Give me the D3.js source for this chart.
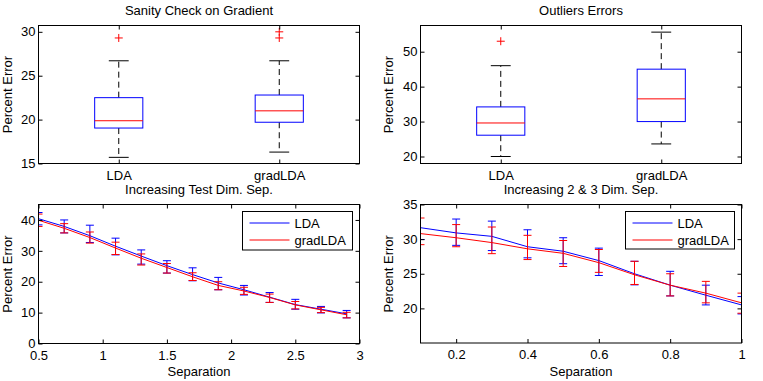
<!DOCTYPE html>
<html>
<head>
<meta charset="utf-8">
<script src="https://cdn.jsdelivr.net/npm/d3@7/dist/d3.min.js"></script>
<style>
  html, body { margin: 0; padding: 0; background: #fff; }
  svg { display: block; }
  text { font-family: "Liberation Sans", Arial, Helvetica, sans-serif; font-size: 13px; fill: #000; }
</style>
</head>
<body>
<svg id="chart" width="763" height="381"></svg>
<script>
// ---------- DATA ----------
const boxCategories = ["LDA", "gradLDA"];
// [lower whisker, Q1, median, Q3, upper whisker]
const sanityLDA = [15.7, 19.04, 19.87, 22.5, 26.7];
const sanityGrad = [16.3, 19.7, 21.0, 22.8, 26.7];
const sanityLDAOutliers = [29.3];
const sanityGradOutliers = [29.3, 30.0];
const outlierLDA = [20.0, 26.1, 29.6, 34.2, 46.0];
const outlierGrad = [23.6, 30.0, 36.5, 45.0, 55.6];
const outlierLDAOutliers = [53.0];
const outlierGradOutliers = [];

const sepTest = [0.5, 0.7, 0.9, 1.1, 1.3, 1.5, 1.7, 1.9, 2.1, 2.3, 2.5, 2.7, 2.9];
const testLDA     = [40.4, 37.9, 34.9, 31.5, 28.3, 25.2, 22.3, 19.6, 17.4, 15.0, 12.6, 11.1, 9.6];
const testLDAHi   = [42.4, 40.0, 38.3, 34.1, 30.3, 26.8, 24.5, 21.4, 18.8, 16.5, 14.3, 12.0, 10.7];
const testLDALo   = [38.4, 35.8, 32.7, 28.7, 25.7, 22.8, 20.3, 17.4, 15.7, 13.3, 11.1, 9.9, 8.3];
const testGrad    = [39.9, 37.3, 34.3, 30.9, 27.6, 24.6, 21.6, 18.8, 17.0, 14.9, 12.5, 10.9, 9.3];
const testGradHi  = [41.9, 38.8, 36.1, 32.8, 29.0, 25.9, 22.9, 20.0, 18.2, 16.0, 13.6, 11.7, 10.1];
const testGradLo  = [37.9, 35.8, 32.5, 28.8, 25.4, 22.8, 20.4, 17.4, 15.9, 13.3, 11.2, 10.0, 8.3];

const sep23 = [0.1, 0.2, 0.3, 0.4, 0.5, 0.6, 0.7, 0.8, 0.9, 1.0];
const dimLDA    = [31.65, 30.9, 30.4, 28.9, 28.25, 26.9, 25.0, 23.35, 21.9, 20.5];
const dimLDAHi  = [35.5, 32.9, 32.6, 31.35, 30.2, 28.7, 26.8, 25.35, 23.35, 21.7];
const dimLDALo  = [29.95, 29.1, 28.35, 27.3, 26.45, 24.75, 23.4, 21.8, 20.5, 19.2];
const dimGrad   = [30.8, 30.2, 29.5, 28.6, 27.95, 26.6, 24.85, 23.35, 22.2, 20.8];
const dimGradHi = [33.05, 32.1, 31.75, 30.55, 29.8, 28.5, 26.8, 25.0, 23.9, 22.2];
const dimGradLo = [29.2, 28.9, 27.9, 27.05, 26.05, 25.2, 23.45, 21.8, 20.8, 19.3];

const legendLabels = ["LDA", "gradLDA"];
const seriesColors = ["#0000ff", "#ff0000"];

const sanityYTicks = [15, 20, 25, 30];
const outlierYTicks = [20, 30, 40, 50];
const testXTicks = [0.5, 1, 1.5, 2, 2.5, 3];
const testYTicks = [0, 10, 20, 30, 40];
const dimXTicks = [0.2, 0.4, 0.6, 0.8, 1];
const dimYTicks = [20, 25, 30, 35];

// ---------- DRAWING ----------
const svg = d3.select("#chart");
const TICK = 4;
let clipId = 0;

function frameAndAxes(g, x, y, xTicks, yTicks, xFmt, box) {
  const {x0, x1, y0, y1} = box;
  const styleAxis = sel => {
    sel.select(".domain").remove();
    sel.selectAll(".tick line").attr("stroke", "#000");
    sel.selectAll(".tick text").style("font-size", "13px").attr("fill", "#000");
  };
  g.append("g").attr("transform", `translate(${x0},0)`)
    .call(d3.axisLeft(y).tickValues(yTicks).tickSize(-TICK).tickPadding(3).tickFormat(d3.format("d")))
    .call(styleAxis);
  g.append("g").attr("transform", `translate(${x1},0)`)
    .call(d3.axisRight(y).tickValues(yTicks).tickSize(-TICK).tickFormat(""))
    .call(styleAxis);
  g.append("g").attr("transform", `translate(0,${y1})`)
    .call(d3.axisBottom(x).tickValues(xTicks).tickSize(-TICK).tickPadding(7).tickFormat(xFmt))
    .call(styleAxis);
  g.append("g").attr("transform", `translate(0,${y0})`)
    .call(d3.axisTop(x).tickValues(xTicks).tickSize(-TICK).tickFormat(""))
    .call(styleAxis);
  g.append("rect").attr("x", x0).attr("y", y0).attr("width", x1 - x0).attr("height", y1 - y0)
    .attr("fill", "none").attr("stroke", "#000").attr("stroke-width", 1);
}

function labels(g, box, title, xlabel, ylabelX) {
  const cx = (box.x0 + box.x1) / 2, cy = (box.y0 + box.y1) / 2;
  g.append("text").attr("x", cx).attr("y", box.y0 - 11).attr("text-anchor", "middle").text(title);
  if (xlabel) g.append("text").attr("x", cx).attr("y", 376).attr("text-anchor", "middle").text(xlabel);
  g.append("text").attr("transform", `translate(${ylabelX},${cy}) rotate(-90)`)
    .attr("text-anchor", "middle").text("Percent Error");
}

function boxPanel(box, title, stats, outs, yDomain, yTicks, ylabelX) {
  const g = svg.append("g");
  g.append("rect").attr("x", box.x0).attr("y", box.y0).attr("width", box.x1 - box.x0)
    .attr("height", box.y1 - box.y0).attr("fill", "#fff");
  const x = d3.scaleLinear([0.5, 2.5], [box.x0, box.x1]);
  const y = d3.scaleLinear(yDomain, [box.y1, box.y0]);
  const halfW = 0.15, capW = 0.062;
  stats.forEach((s, i) => {
    const p = i + 1;
    const [lo, q1, med, q3, hi] = s;
    g.append("line").attr("x1", x(p)).attr("x2", x(p)).attr("y1", y(q3)).attr("y2", y(hi))
      .attr("stroke", "#000").attr("stroke-dasharray", "6,4");
    g.append("line").attr("x1", x(p)).attr("x2", x(p)).attr("y1", y(q1)).attr("y2", y(lo))
      .attr("stroke", "#000").attr("stroke-dasharray", "6,4");
    [lo, hi].forEach(v => g.append("line").attr("x1", x(p - capW)).attr("x2", x(p + capW))
      .attr("y1", y(v)).attr("y2", y(v)).attr("stroke", "#000"));
    g.append("rect").attr("x", x(p - halfW)).attr("y", y(q3))
      .attr("width", x(p + halfW) - x(p - halfW)).attr("height", y(q1) - y(q3))
      .attr("fill", "none").attr("stroke", "#0000ff");
    g.append("line").attr("x1", x(p - halfW)).attr("x2", x(p + halfW)).attr("y1", y(med)).attr("y2", y(med))
      .attr("stroke", "#ff0000");
    outs[i].forEach(v => {
      g.append("line").attr("x1", x(p) - 4).attr("x2", x(p) + 4).attr("y1", y(v)).attr("y2", y(v)).attr("stroke", "#ff0000");
      g.append("line").attr("x1", x(p)).attr("x2", x(p)).attr("y1", y(v) - 4).attr("y2", y(v) + 4).attr("stroke", "#ff0000");
    });
  });
  frameAndAxes(g, x, y, [1, 2], yTicks, (d, i) => boxCategories[i], box);
  labels(g, box, title, null, ylabelX);
}

function linePanel(box, title, xs, series, xDomain, yDomain, xTicks, yTicks, xFmt, ylabelX, legendBox) {
  const g = svg.append("g");
  const x = d3.scaleLinear(xDomain, [box.x0, box.x1]);
  const y = d3.scaleLinear(yDomain, [box.y1, box.y0]);
  const id = "clip" + (clipId++);
  g.append("clipPath").attr("id", id).append("rect")
    .attr("x", box.x0).attr("y", box.y0).attr("width", box.x1 - box.x0).attr("height", box.y1 - box.y0);
  const data = g.append("g").attr("clip-path", `url(#${id})`);
  const line = d3.line().x((d, i) => x(xs[i])).y(d => y(d));
  series.forEach((s, k) => {
    const c = seriesColors[k];
    data.append("path").datum(s.mean).attr("d", line).attr("fill", "none").attr("stroke", c).attr("stroke-width", 1);
    xs.forEach((xv, i) => {
      const px = x(xv);
      data.append("line").attr("x1", px).attr("x2", px).attr("y1", y(s.lo[i])).attr("y2", y(s.hi[i])).attr("stroke", c);
      [s.lo[i], s.hi[i]].forEach(v => data.append("line").attr("x1", px - 4).attr("x2", px + 4)
        .attr("y1", y(v)).attr("y2", y(v)).attr("stroke", c));
    });
  });
  frameAndAxes(g, x, y, xTicks, yTicks, xFmt, box);
  labels(g, box, title, "Separation", ylabelX);
  const L = g.append("g");
  L.append("rect").attr("x", legendBox.x).attr("y", legendBox.y).attr("width", legendBox.w).attr("height", legendBox.h)
    .attr("fill", "#fff").attr("stroke", "#000");
  legendLabels.forEach((lab, k) => {
    const ry = Math.round(legendBox.y + 11 + k * 17);
    L.append("line").attr("x1", legendBox.x + 7).attr("x2", legendBox.x + 47).attr("y1", ry).attr("y2", ry)
      .attr("stroke", seriesColors[k]).attr("stroke-width", 1);
    L.append("text").attr("x", legendBox.x + 52).attr("y", ry).attr("dy", "0.36em").text(lab);
  });
}

const boxA = {x0: 38.5, x1: 359.5, y0: 25.5, y1: 163.5};
const boxB = {x0: 420.5, x1: 741.5, y0: 25.5, y1: 163.5};
const boxC = {x0: 38.5, x1: 359.5, y0: 204.5, y1: 343.5};
const boxD = {x0: 420.5, x1: 741.5, y0: 204.5, y1: 343};

boxPanel(boxA, "Sanity Check on Gradient", [sanityLDA, sanityGrad], [sanityLDAOutliers, sanityGradOutliers],
  [15, 30.72], sanityYTicks, 11.5);
boxPanel(boxB, "Outliers Errors", [outlierLDA, outlierGrad], [outlierLDAOutliers, outlierGradOutliers],
  [18, 57.5], outlierYTicks, 393);

linePanel(boxC, "Increasing Test Dim. Sep.", sepTest,
  [{mean: testLDA, lo: testLDALo, hi: testLDAHi}, {mean: testGrad, lo: testGradLo, hi: testGradHi}],
  [0.5, 3], [0, 45], testXTicks, testYTicks, d3.format("~g"), 11.5,
  {x: 242.5, y: 211.5, w: 110, h: 38.5});
linePanel(boxD, "Increasing 2 & 3 Dim. Sep.", sep23,
  [{mean: dimLDA, lo: dimLDALo, hi: dimLDAHi}, {mean: dimGrad, lo: dimGradLo, hi: dimGradHi}],
  [0.1, 1], [15, 35], dimXTicks, dimYTicks, d3.format("~g"), 393,
  {x: 625.5, y: 211.5, w: 109, h: 37.5});
</script>
</body>
</html>
